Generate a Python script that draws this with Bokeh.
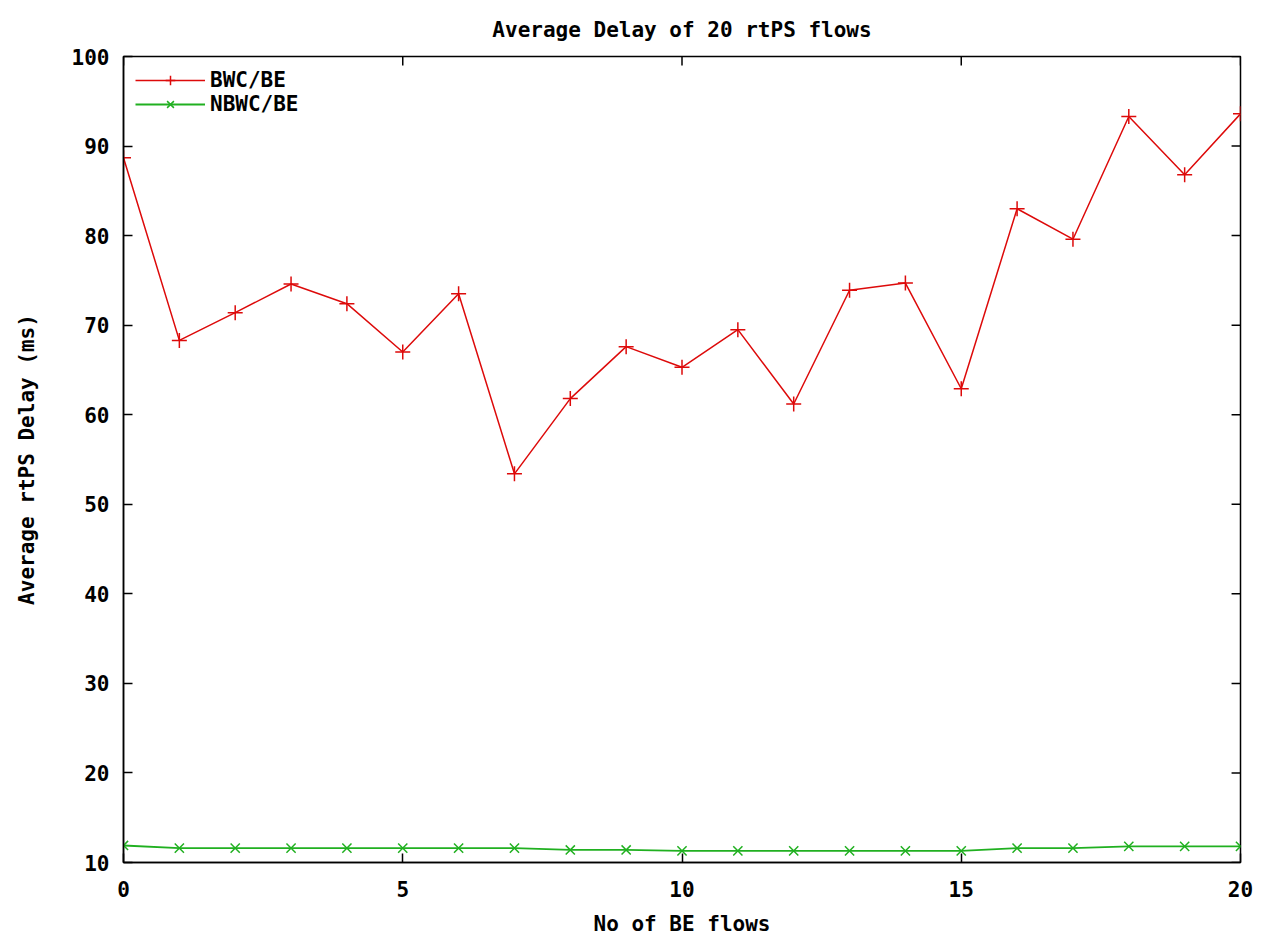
from bokeh.plotting import figure
from bokeh.models import FixedTicker, Range1d, Legend, LegendItem
from bokeh.embed import file_html
from bokeh.resources import INLINE

# Number of best-effort flows
be_flows = list(range(0, 21))

# Average rtPS delay (ms) with bandwidth control
bwc_be = [88.7, 68.3, 71.4, 74.6, 72.4, 67.0, 73.5, 53.4, 61.8, 67.6, 65.3,
          69.5, 61.2, 73.9, 74.7, 62.9, 83.0, 79.6, 93.3, 86.8, 93.6]

# Average rtPS delay (ms) without bandwidth control
nbwc_be = [11.9, 11.6, 11.6, 11.6, 11.6, 11.6, 11.6, 11.6, 11.4, 11.4, 11.3,
           11.3, 11.3, 11.3, 11.3, 11.3, 11.6, 11.6, 11.8, 11.8, 11.8]

x_ticks = [0, 5, 10, 15, 20]
y_ticks = [10, 20, 30, 40, 50, 60, 70, 80, 90, 100]

X_MIN, X_MAX = 0, 20
Y_MIN, Y_MAX = 10, 100

FONT = "DejaVu Sans Mono"
FS = "21px"
RED = "#dd0a0a"
GREEN = "#20b020"

p = figure(width=1262, height=938, output_backend="svg", toolbar_location=None,
           x_range=Range1d(X_MIN, X_MAX), y_range=Range1d(Y_MIN, Y_MAX),
           min_border_left=123, min_border_right=22, min_border_top=0,
           min_border_bottom=75, title="Average Delay of 20 rtPS flows")

p.title.align = "center"
p.title.text_font = FONT
p.title.text_font_size = FS
p.title.text_font_style = "bold"
p.title.text_color = "black"
p.title.standoff = 30

p.grid.visible = False
p.outline_line_color = "black"
p.outline_line_width = 1.5
p.background_fill_color = "white"
p.border_fill_color = "white"

for ax in (p.xaxis[0], p.yaxis[0]):
    ax.major_tick_in = 9
    ax.major_tick_out = 0
    ax.minor_tick_line_color = None
    ax.axis_line_color = "black"
    ax.axis_line_width = 1.5
    ax.major_tick_line_width = 1.5
    ax.major_label_text_font = FONT
    ax.major_label_text_font_size = FS
    ax.major_label_text_font_style = "bold"
    ax.major_label_text_color = "black"
    ax.axis_label_text_font = FONT
    ax.axis_label_text_font_size = FS
    ax.axis_label_text_font_style = "bold"
    ax.axis_label_text_color = "black"

p.xaxis[0].ticker = FixedTicker(ticks=x_ticks)
p.yaxis[0].ticker = FixedTicker(ticks=y_ticks)
p.xaxis[0].axis_label = "No of BE flows"
p.yaxis[0].axis_label = "Average rtPS Delay (ms)"
p.xaxis[0].major_label_standoff = 18
p.xaxis[0].axis_label_standoff = 12
p.yaxis[0].major_label_standoff = 14
p.yaxis[0].axis_label_standoff = 30

# mirrored inward ticks on the top and right borders
x_tick_len = 0.16 * (X_MAX - X_MIN) / 20
y_tick_len = 1.0 * (Y_MAX - Y_MIN) / 90
p.segment(x0=[X_MAX] * len(y_ticks), y0=y_ticks,
          x1=[X_MAX - x_tick_len] * len(y_ticks), y1=y_ticks,
          line_color="black", line_width=1.5)
p.segment(x0=x_ticks, y0=[Y_MAX] * len(x_ticks),
          x1=x_ticks, y1=[Y_MAX - y_tick_len] * len(x_ticks),
          line_color="black", line_width=1.5)

r1 = p.line(be_flows, bwc_be, line_color=RED, line_width=1.5)
m1 = p.scatter(be_flows, bwc_be, marker="cross", size=15, line_color=RED, line_width=1.5)
r2 = p.line(be_flows, nbwc_be, line_color=GREEN, line_width=1.8)
m2 = p.scatter(be_flows, nbwc_be, marker="x", size=13, line_color=GREEN, line_width=1.5)

legend = Legend(items=[LegendItem(label="BWC/BE", renderers=[r1, m1]),
                       LegendItem(label="NBWC/BE", renderers=[r2, m2])],
                location="top_left", border_line_color=None,
                background_fill_alpha=0.0, label_text_font=FONT,
                label_text_font_size=FS, label_text_font_style="bold",
                label_text_color="black",
                glyph_width=70, spacing=0, padding=4, margin=12,
                label_height=24, glyph_height=24)
p.add_layout(legend)

open("out.html", "w").write(file_html(p, INLINE))
